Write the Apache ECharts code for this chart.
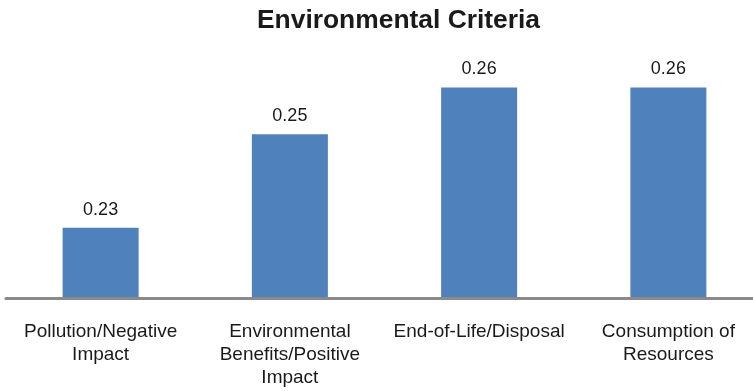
<!DOCTYPE html>
<html>
<head>
<meta charset="utf-8">
<title>Environmental Criteria</title>
<script src="https://cdn.jsdelivr.net/npm/echarts@6/dist/echarts.min.js"></script>
<style>
  html, body { margin: 0; padding: 0; background: #ffffff; overflow: hidden; }
  /* plot area runs a little past the right edge of the window */
  #chart { width: 763px; height: 391px; }
</style>
</head>
<body>
<div id="chart"></div>
<script>
// Criteria (axis labels, wrapped as displayed)
const categories = [
  'Pollution/Negative\nImpact',
  'Environmental\nBenefits/Positive\nImpact',
  'End-of-Life/Disposal',
  'Consumption of\nResources'
];

// Weight of each criterion
const weights = [0.23, 0.25, 0.26, 0.26];

// Value axis range (axis itself is hidden)
const valueMin = 0.215;
const valueMax = 0.265;

const chart = echarts.init(document.getElementById('chart'), null, { renderer: 'canvas' });

chart.setOption({
  animation: false,
  backgroundColor: '#ffffff',
  title: {
    text: 'Environmental Criteria',
    left: 252,
    top: 3,
    textStyle: {
      fontFamily: 'Liberation Sans, Arial, sans-serif',
      fontSize: 26.4,
      fontWeight: 'bold',
      color: '#1a1a1a'
    }
  },
  grid: {
    left: 6,
    right: 0,
    top: 64,
    bottom: 93,
    containLabel: false
  },
  xAxis: {
    type: 'category',
    data: categories,
    z: 5,
    axisLine: { show: true, lineStyle: { color: '#8a8a8a', width: 3 } },
    axisTick: { show: false },
    axisLabel: {
      interval: 0,
      margin: 22,
      fontFamily: 'Liberation Sans, Arial, sans-serif',
      fontSize: 19,
      lineHeight: 23,
      color: '#1a1a1a',
      align: 'center'
    }
  },
  yAxis: {
    type: 'value',
    min: valueMin,
    max: valueMax,
    show: false,
    splitLine: { show: false }
  },
  series: [{
    type: 'bar',
    data: weights,
    barWidth: 76,
    itemStyle: { color: '#4F81BD' },
    label: {
      show: true,
      position: 'top',
      distance: 9,
      formatter: p => p.value.toFixed(2),
      fontFamily: 'Liberation Sans, Arial, sans-serif',
      fontSize: 18,
      color: '#1a1a1a'
    }
  }]
});
</script>
</body>
</html>
